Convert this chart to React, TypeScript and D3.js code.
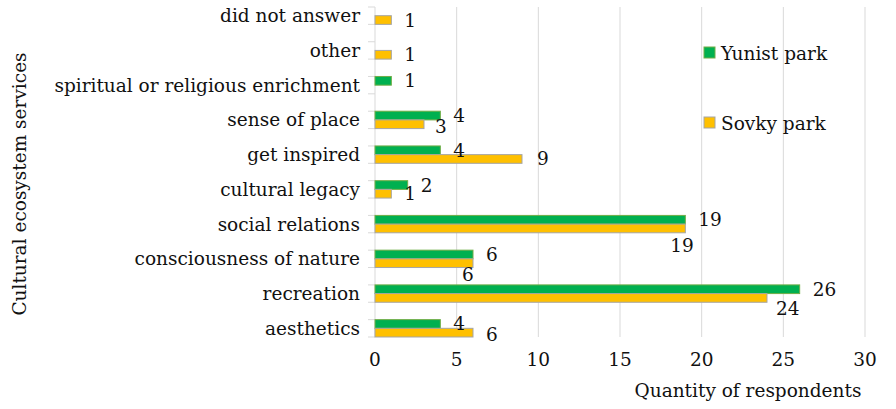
import React from "react";
import * as d3 from "d3";

const categories = [
  "did not answer",
  "other",
  "spiritual or religious enrichment",
  "sense of place",
  "get inspired",
  "cultural legacy",
  "social relations",
  "consciousness of nature",
  "recreation",
  "aesthetics",
];
const yunist = [0, 0, 1, 4, 4, 2, 19, 6, 26, 4];
const sovky = [1, 1, 0, 3, 9, 1, 19, 6, 24, 6];
const xTicks = [0, 5, 10, 15, 20, 25, 30];
const seriesNames = ["Yunist park", "Sovky park"];

// manual label nudges (as placed in the original chart) for Sovky labels
const sovkyNudge: [number, number][] = [
  [0, 0], [0, 0], [0, 0], [-2, 2], [2, 0], [0, 0], [-28, 17], [-24, 11], [-4, 11], [0, 2],
];

const W = 896;
const H = 409;
const FONT = "DejaVu Serif";
const FS = 18.5;
const GREEN = "#00B050";
const GREEN_EDGE = "#70AD47";
const ORANGE = "#FFC000";
const ORANGE_EDGE = "#A5A5A5";
const GRID = "#D9D9D9";
const TEXT = "#111";

export default function App() {
  const x = d3.scaleLinear().domain([0, 30]).range([375, 865]);
  const y = d3.scaleBand<string>().domain(categories).range([7, 337]).paddingInner(0.5).paddingOuter(0);
  const bw = y.bandwidth();
  const half = bw / 2;

  const tickYs: number[] = [];
  categories.forEach((c) => {
    tickYs.push(y(c)!);
    tickYs.push(y(c)! + bw);
  });

  return (
    <svg width={W} height={H} style={{ position: "absolute", left: 0, top: 0, background: "#fff" }}
      fontFamily={FONT} fontSize={FS} fill={TEXT}>
      {/* gridlines */}
      {xTicks.slice(1).map((t) => (
        <line key={"g" + t} x1={x(t)} x2={x(t)} y1={7} y2={337} stroke={GRID} strokeWidth={1} />
      ))}
      {/* axis line */}
      <line x1={x(0)} x2={x(0)} y1={7} y2={337} stroke={GRID} strokeWidth={1} />
      {tickYs.map((ty, i) => (
        <line key={"t" + i} x1={x(0) - 7} x2={x(0)} y1={ty} y2={ty} stroke={GRID} strokeWidth={1} />
      ))}
      {/* bars */}
      {categories.map((c, i) => (
        <g key={c}>
          {yunist[i] > 0 && (
            <rect x={x(0)} y={y(c)!} width={x(yunist[i]) - x(0)} height={half}
              fill={GREEN} stroke={GREEN_EDGE} strokeWidth={1} />
          )}
          {sovky[i] > 0 && (
            <rect x={x(0)} y={y(c)! + half} width={x(sovky[i]) - x(0)} height={half}
              fill={ORANGE} stroke={ORANGE_EDGE} strokeWidth={1} />
          )}
        </g>
      ))}
      {/* data labels */}
      {categories.map((c, i) => (
        <g key={"l" + c}>
          {yunist[i] > 0 && (
            <text x={x(yunist[i]) + 13} y={y(c)! + half / 2} dominantBaseline="central">
              {yunist[i]}
            </text>
          )}
          {sovky[i] > 0 && (
            <text x={x(sovky[i]) + 13 + sovkyNudge[i][0]} y={y(c)! + half * 1.5 + sovkyNudge[i][1]}
              dominantBaseline="central">
              {sovky[i]}
            </text>
          )}
        </g>
      ))}
      {/* category labels */}
      {categories.map((c) => (
        <text key={"c" + c} x={360} y={y(c)! + half} textAnchor="end" dominantBaseline="central">
          {c}
        </text>
      ))}
      {/* x tick labels */}
      {xTicks.map((t) => (
        <text key={"x" + t} x={x(t)} y={366} textAnchor="middle">
          {t}
        </text>
      ))}
      {/* axis titles */}
      <text x={748} y={397} textAnchor="middle">Quantity of respondents</text>
      <text transform={`translate(26,184) rotate(-90)`} textAnchor="middle">
        Cultural ecosystem services
      </text>
      {/* legend */}
      {seriesNames.map((s, i) => (
        <g key={s} transform={`translate(704, ${47 + i * 70})`}>
          <rect x={0} y={0} width={11} height={11} fill={i === 0 ? GREEN : ORANGE}
            stroke={i === 0 ? GREEN_EDGE : ORANGE_EDGE} strokeWidth={1} />
          <text x={17} y={6} dominantBaseline="central">{s}</text>
        </g>
      ))}
    </svg>
  );
}
